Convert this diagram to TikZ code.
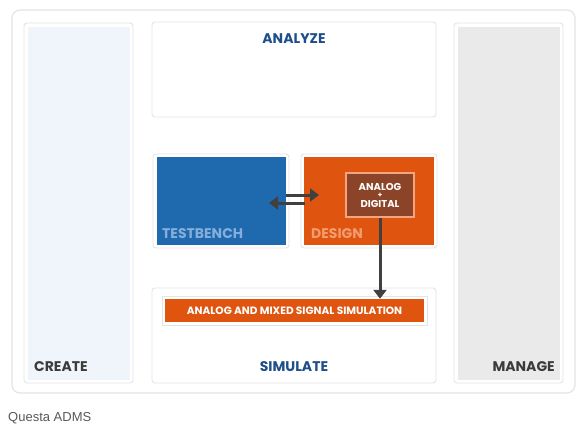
\documentclass[tikz,border=0pt]{standalone}
\usepackage{fontspec}
\setmainfont{Poppins}
\newfontfamily\captionfont{Liberation Sans}
\usetikzlibrary{arrows.meta}

\definecolor{framegray}{HTML}{E4E4E4}
\definecolor{createbg}{HTML}{EFF5FB}
\definecolor{managebg}{HTML}{EAEAEA}
\definecolor{tbblue}{HTML}{1F69AF}
\definecolor{tblabel}{HTML}{86AEDA}
\definecolor{dsgorange}{HTML}{DF5510}
\definecolor{dsglabel}{HTML}{F39C70}
\definecolor{adbrown}{HTML}{8C4428}
\definecolor{adborder}{HTML}{F4A47E}
\definecolor{navy}{HTML}{1E4F8A}
\definecolor{darktext}{HTML}{3B3B3B}
\definecolor{arrowgray}{HTML}{404040}

\tikzset{
  panel/.style={draw=framegray, fill=white, line width=0.9pt, rounded corners=3pt},
  heading/.style={font=\bfseries\fontsize{14}{14}\selectfont, inner sep=0pt},
  adtext/.style={text=white, inner sep=0pt, anchor=base, font=\bfseries\fontsize{10}{10}\selectfont},
  arr/.style={draw=arrowgray, line width=3pt, -{Triangle[length=9pt,width=13pt]}},
}

\begin{document}
\begin{tikzpicture}[x=1pt,y=-1pt]
  \useasboundingbox (0,0) rectangle (582,436);
  % outer frame
  \draw[framegray, line width=1.2pt, rounded corners=8pt, fill=white] (12,10) rectangle (575,393);
  % columns
  \draw[panel] (24,23) rectangle (133,383);
  \fill[createbg] (28,27) rectangle (130,380);
  \draw[panel] (454,23) rectangle (563,383);
  \fill[managebg] (458,27) rectangle (560,380);
  \node[heading, darktext, anchor=base west] (create) at (34,371) {CREATE};
  \node[heading, darktext, anchor=base east] (manage) at (555,371) {MANAGE};
  % analyze
  \draw[panel] (152,22) rectangle (436,117);
  \node[heading, navy, anchor=base] (analyze) at (294,44) {ANALYZE};
  % testbench and design
  \draw[panel] (153,154) rectangle (289,248);
  \node[fill=tbblue, minimum width=129pt, minimum height=88pt, inner sep=0pt] (tb) at (221.5,201) {};
  \node[heading, tblabel, anchor=base west] (tblbl) at (162,238) {TESTBENCH};
  \draw[panel] (301,154) rectangle (437,248);
  \node[fill=dsgorange, minimum width=130pt, minimum height=88pt, inner sep=0pt] (dsg) at (369,201) {};
  \node[heading, dsglabel, anchor=base west] (dsglbl) at (311,238) {DESIGN};
  \node[fill=adbrown, draw=adborder, line width=2pt, minimum width=68pt, minimum height=44pt,
        inner sep=0pt] (ad) at (380,195) {};
  \node[adtext] (adtop) at (380,190.5) {ANALOG};
  \node[adtext, font=\bfseries\fontsize{7}{7}\selectfont] (adplus) at (380,197.5) {+};
  \node[adtext] (adbot) at (380,207.5) {DIGITAL};
  % simulate
  \draw[panel] (152,288) rectangle (436,383);
  \node[heading, navy, anchor=base] (simulate) at (294,371) {SIMULATE};
  \draw[framegray, line width=0.8pt, fill=white] (162,296) rectangle (427,325);
  \node[fill=dsgorange, minimum width=259pt, minimum height=23pt, inner sep=0pt, text=white,
        font=\bfseries\fontsize{10.6}{10}\selectfont] (bar) at (294.5,310.5) {ANALOG AND MIXED SIGNAL SIMULATION};
  % arrows
  \coordinate (ul) at (286,195);
  \coordinate (ur) at (319,195);
  \coordinate (ll) at (305,203);
  \coordinate (lr) at (269,203);
  \draw[arr] (ul) -- (ur);
  \draw[arr] (ll) -- (lr);
  \draw[arr] (ad.south) -- (ad.south |- bar.north);
  % caption
  \node[anchor=base west, inner sep=0pt, text=darktext!85,
        font=\captionfont\fontsize{13}{14}\selectfont] (cap) at (8,421) {Questa ADMS};
\end{tikzpicture}
\end{document}
